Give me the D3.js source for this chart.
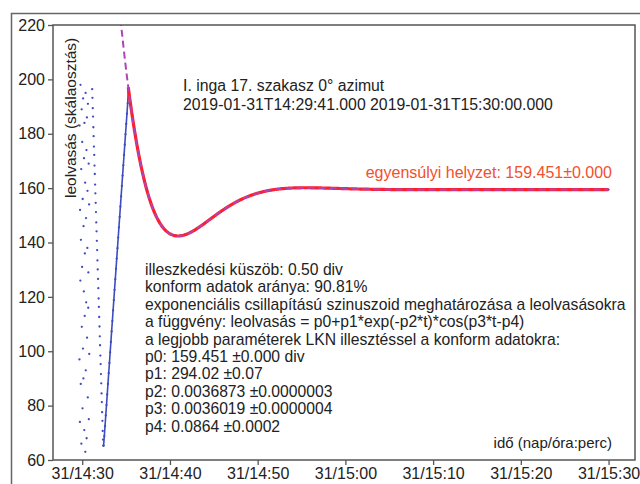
<!DOCTYPE html>
<html><head><meta charset="utf-8">
<script src="https://cdn.jsdelivr.net/npm/d3@7"></script>
<style>body{margin:0;background:#fff}svg{display:block;font-family:"Liberation Sans",Arial,sans-serif}</style>
</head><body>
<svg id="c" width="640" height="484"></svg>
<script>
// ---- data ----
const startISO = "2019-01-31T14:29:41Z";
const endISO = "2019-01-31T15:30:00Z";
const yTickValues = [60, 80, 100, 120, 140, 160, 180, 200, 220];
const yDomain = [60, 220];
// fit parameters p0..p4 : p0 + p1*exp(-p2*t)*cos(p3*t - p4), t in seconds from start
const params = [159.451, 294.02, 0.0036873, 0.0036019, 0.0864];
const fitStartSec = 334;
// readings: seconds after start, value
const sparseT = [0,1,3,4,6,7,9,10,12,13,15,16,18,19,21,22,24,25,27,28,30,31,33,34,36,37,39,40,42,43,45,46,48,49,51,52,54,55,57,58,60,61,63,64,66,67];
const sparseV = [97,183,74,152,126,198,88,141,167,66,189,109,131,177,79,156,101,193,90,146,122,171,71,184,113,136,162,63,195,93,149,118,174,68,186,105,138,159,83,191,116,129,169,75,154,99];
const descT = [87,89,91,93,95,97,99,101,103,105,107,109,111,113,115,117,119,121,123,125,127,129,131,133,135,137,139,141,143,145,147,149,151,153,155,157,159,161,163];
const descV = [196.4,193.2,189.4,186.3,182.4,179.1,175.3,172.2,168.3,165.2,161.3,158.1,154.6,151.2,147.4,144.1,140.6,137.2,133.4,130.1,126.6,123.2,119.4,116.3,112.6,109.1,105.5,102.2,98.4,95.3,91.6,88.2,84.5,81.3,77.6,74.4,70.7,67.5,65.3];
const riseT = [165,170,175,180,185,190,195,200,205,210,215,220,225,230,235,240,245,250,255,260,265,270,275,280,285,290,295,300,305,310,315,320,325,330,334];
const riseV = [65.2,68.8,72.5,76.4,80.2,84.1,88.0,91.9,95.7,99.6,103.4,107.3,111.1,115.0,118.8,122.6,126.5,130.3,134.1,137.9,141.8,145.6,149.4,153.2,157.0,160.8,164.6,168.4,172.2,176.0,179.8,183.6,187.4,191.2,195.8];
const decayT = [345,360,380,400,420,450,480,510,540,570,600,630,660,690,720,780,840,900,960,1020,1080,1140,1200,1290,1380,1470,1560,1680,1800,1950,2100,2300,2500,2700,2900,3100,3300,3500,3619];
const decayV = [191.5,186.9,180.2,174.0,168.4,161.6,155.9,151.6,148.1,145.6,143.9,142.9,142.5,142.5,142.8,144.3,146.4,148.8,151.1,153.3,155.1,156.6,157.8,159.0,159.8,160.1,160.1,160.0,159.8,159.6,159.5,159.45,159.45,159.45,159.45,159.45,159.45,159.45,159.45];

const titleLines = ["I. inga 17. szakasz 0\u00b0 azimut", "2019-01-31T14:29:41.000 2019-01-31T15:30:00.000"];
const infoLines = [
 "illeszkedési küszöb: 0.50 div",
 "konform adatok aránya: 90.81%",
 "exponenciális csillapítású szinuszoid meghatározása a leolvasásokra",
 "a függvény: leolvasás = p0+p1*exp(-p2*t)*cos(p3*t-p4)",
 "a legjobb paraméterek LKN illesztéssel a konform adatokra:",
 "p0: 159.451 ±0.000 div",
 "p1: 294.02 ±0.07",
 "p2: 0.0036873 ±0.0000003",
 "p3: 0.0036019 ±0.0000004",
 "p4: 0.0864 ±0.0002"
];
const eqLabel = "egyensúlyi helyzet: 159.451\u00b10.000";
const xLabel = "idő (nap/óra:perc)";
const yLabel = "leolvasás (skálaosztás)";

// ---- layout ----
const L = 53, R = 635, T = 25, B = 460;
const t0 = new Date(startISO), t1 = new Date(endISO);
const span = t1 - t0, pad = span * 0.05;
const toDate = s => new Date(t0.getTime() + s * 1000);
const x = d3.scaleUtc().domain([new Date(t0 - pad), new Date(+t1 + pad)]).range([L, R]);
const y = d3.scaleLinear().domain(yDomain).range([B, T]);
const fit = s => params[0] + params[1] * Math.exp(-params[2] * s) * Math.cos(params[3] * s - params[4]);

const svg = d3.select("#c");
svg.append("rect").attr("x", 11.5).attr("y", 13.5).attr("width", 700).attr("height", 600)
  .attr("fill", "none").attr("stroke", "#666").attr("stroke-width", 1.5);

svg.append("clipPath").attr("id", "clip").append("rect")
  .attr("x", L).attr("y", T).attr("width", R - L).attr("height", B - T);
const g = svg.append("g").attr("clip-path", "url(#clip)");

const dotColor = "#3d4cc0";
const pts = (T_, V_) => T_.map((s, i) => [toDate(s), V_[i]]);
const line = d3.line().x(d => x(d[0])).y(d => y(d[1]));

g.append("path").datum(pts(riseT, riseV)).attr("d", line)
  .attr("fill", "none").attr("stroke", dotColor).attr("stroke-width", 1.6);
g.append("path").datum(pts(decayT, decayV)).attr("d", line)
  .attr("fill", "none").attr("stroke", dotColor).attr("stroke-width", 1.6);

const allPts = [].concat(pts(sparseT, sparseV), pts(descT, descV), pts(riseT, riseV), pts(decayT, decayV));
g.selectAll("circle.d").data(allPts).enter().append("circle")
  .attr("cx", d => x(d[0])).attr("cy", d => y(d[1])).attr("r", 1.15).attr("fill", dotColor);

// fit curves
const fitAll = d3.range(0, 3620, 4).map(s => [toDate(s), fit(s)]);
const fitConf = d3.range(fitStartSec, 3620, 4).map(s => [toDate(s), fit(s)]);
g.append("path").datum(fitConf).attr("d", line).attr("fill", "none")
  .attr("stroke", "#ff1f2a").attr("stroke-width", 3.2);
g.append("path").datum(fitAll).attr("d", line).attr("fill", "none")
  .attr("stroke", "#b044b4").attr("stroke-width", 2).attr("stroke-dasharray", "7,4");

// axes
const axStyle = sel => {
  sel.selectAll(".domain").remove();
  sel.selectAll("line").attr("stroke", "#555").attr("stroke-width", 1.3);
  sel.selectAll("text").attr("fill", "#222").style("font-size", "16px")
    .style("font-family", '"Liberation Sans",Arial,sans-serif');
};
svg.append("g").attr("transform", `translate(${L},0)`)
  .call(d3.axisLeft(y).tickValues(yTickValues).tickSize(5).tickPadding(3))
  .call(axStyle);
svg.append("g").attr("transform", `translate(0,${B})`)
  .call(d3.axisBottom(x).ticks(d3.utcMinute.every(10)).tickFormat(d3.utcFormat("%d/%H:%M")).tickSize(5).tickPadding(3))
  .call(axStyle);
svg.append("rect").attr("x", L).attr("y", T).attr("width", R - L).attr("height", B - T)
  .attr("fill", "none").attr("stroke", "#555").attr("stroke-width", 1.5);

// texts
const tx = svg.append("g").attr("fill", "#222");
titleLines.forEach((s, i) => tx.append("text").attr("x", 183).attr("y", 91 + i * 19)
  .style("font-size", "15.8px").text(s));
infoLines.forEach((s, i) => tx.append("text").attr("x", 145).attr("y", 275 + i * 17.4)
  .style("font-size", "15.7px").text(s));
tx.append("text").attr("x", 612).attr("y", 448).attr("text-anchor", "end")
  .style("font-size", "15px").text(xLabel);
tx.append("text").attr("transform", "translate(76,198) rotate(-90)")
  .style("font-size", "15.5px").text(yLabel);
svg.append("text").attr("x", 612).attr("y", 178).attr("text-anchor", "end")
  .attr("fill", "#f2502e").style("font-size", "16px").text(eqLabel);
</script>
</body></html>
